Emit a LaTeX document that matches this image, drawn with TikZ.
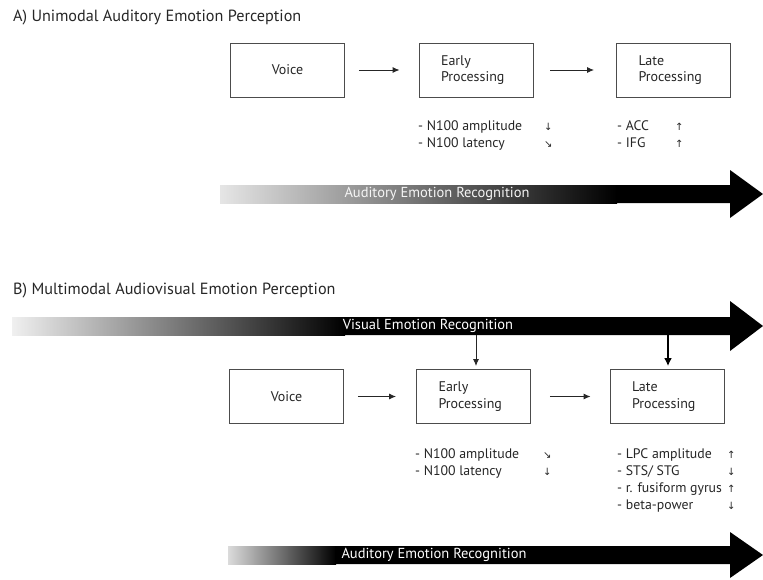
\documentclass[tikz,border=0pt]{standalone}
\usepackage{fontspec}
\setmainfont{PT Sans}
\newfontfamily\arrowfont{DejaVu Sans}
\usetikzlibrary{arrows.meta}

\newcommand{\dn}{{\arrowfont\fontsize{10}{17}\selectfont ↓}}
\newcommand{\up}{{\arrowfont\fontsize{10}{17}\selectfont ↑}}
\newcommand{\se}{{\arrowfont\fontsize{10}{17}\selectfont ↘}}

\begin{document}
\begin{tikzpicture}[x=1pt, y=-1pt,
    every node/.style={text=black!85},
    title/.style={anchor=west, inner sep=0pt, font=\fontsize{16.2}{19}\selectfont},
    box/.style={draw=black!70, line width=.9pt, minimum width=114pt, minimum height=54pt,
      inner xsep=22pt, text width=70pt, align=left, font=\fontsize{14}{16.5}\selectfont},
    list/.style={anchor=west, align=left, inner sep=0pt, font=\fontsize{13.8}{17}\selectfont},
    bartext/.style={inner sep=0pt, text=white, font=\fontsize{14.5}{16}\selectfont},
    flow/.style={-{Latex[length=7pt, width=6pt]}, line width=.9pt, black!85}]
  \useasboundingbox (0,0) rectangle (763,579);

  \node [title] (titleA) at (13, 18) {A) Unimodal Auditory Emotion Perception};

  \node [box, align=center] (voiceA) at (287.5, 70) {Voice};
  \node [box] (earlyA) at (476, 70) {Early\\Processing};
  \node [box] (lateA) at (673.5, 70) {Late\\Processing};

  \draw [flow, shorten <=14pt, shorten >=19pt] (voiceA) to (earlyA);
  \draw [flow, shorten <=17pt, shorten >=22pt] (earlyA) to (lateA);

  \node [list] (earlyAlist) at (418, 136) {\begin{tabular}{@{}p{126pt}@{}l@{}}
    - N100 amplitude & \dn\\
    - N100 latency & \se
  \end{tabular}};
  \node [list] (lateAlist) at (617, 136) {\begin{tabular}{@{}p{58pt}@{}l@{}}
    - ACC & \up\\
    - IFG & \up
  \end{tabular}};

  \shade [left color=black!10, right color=black] (220,185) rectangle (617,203);
  \fill (616,185) -- (730,185) -- (730,170) -- (763,194) -- (730,218) -- (730,203) -- (616,203) -- cycle;
  \node [bartext, text=black!4] (audA) at (437, 194) {Auditory Emotion Recognition};

  \node [title] (titleB) at (13, 291) {B) Multimodal Audiovisual Emotion Perception};

  \shade [left color=black!6, right color=black] (12,317) rectangle (345,335);
  \fill (344,317) -- (730,317) -- (730,301) -- (763,326) -- (730,351) -- (730,335) -- (344,335) -- cycle;
  \node [bartext] (vis) at (428, 326) {Visual Emotion Recognition};

  \node [box, align=center] (voiceB) at (286.5, 396.5) {Voice};
  \node [box] (earlyB) at (473.5, 396.5) {Early\\Processing};
  \node [box] (lateB) at (667, 396.5) {Late\\Processing};

  \coordinate (visE) at (476, 335);
  \coordinate (visL) at (668, 335);
  \draw [flow, shorten >=3pt] (visE) to (visE |- earlyB.north);
  \draw [-{Latex[length=8pt, width=8pt]}, line width=2.2pt, shorten >=3pt] (visL) to (visL |- lateB.north);

  \draw [flow, shorten <=14pt, shorten >=20pt] (voiceB) to (earlyB);
  \draw [flow, shorten <=19pt, shorten >=19pt] (earlyB) to (lateB);

  \node [list] (earlyBlist) at (415, 463.5) {\begin{tabular}{@{}p{128pt}@{}l@{}}
    - N100 amplitude & \se\\
    - N100 latency & \dn
  \end{tabular}};
  \node [list] (lateBlist) at (617, 481) {\begin{tabular}{@{}p{110pt}@{}l@{}}
    - LPC amplitude & \up\\
    - STS/ STG & \dn\\
    - r. fusiform gyrus & \up\\
    - beta-power & \dn
  \end{tabular}};

  \shade [left color=black!14, right color=black] (228,546) rectangle (336,564);
  \fill (335,546) -- (730,546) -- (730,532) -- (763,555) -- (730,578) -- (730,564) -- (335,564) -- cycle;
  \node [bartext] (audB) at (434, 555) {Auditory Emotion Recognition};
\end{tikzpicture}
\end{document}
